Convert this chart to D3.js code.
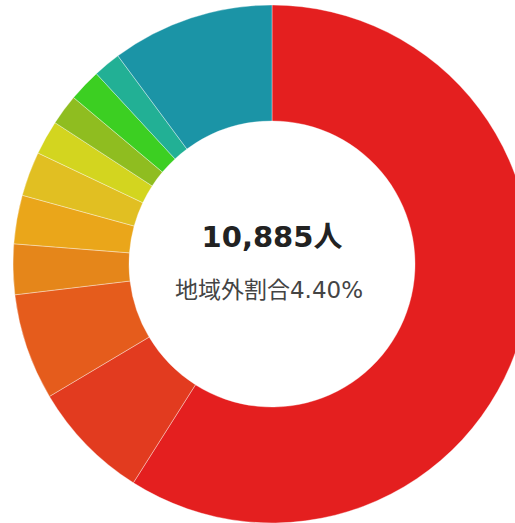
<!DOCTYPE html>
<html>
<head>
<meta charset="utf-8">
<script src="https://cdn.jsdelivr.net/npm/d3@7"></script>
<style>
  html, body { margin: 0; padding: 0; background: #fff; }
  svg { display: block; }
</style>
</head>
<body>
<div id="chart"></div>
<script>
const SIZE = [515, 523]

// 人数 (per slice, clockwise from 12 o'clock)
const categories = ['A', 'B', 'C', 'D', 'E', 'F', 'G', 'H', 'I', 'J', 'K']
const values = [6421, 813, 723, 342, 330, 302, 233, 209, 221, 187, 1104]
const colors = ['#e41f1f', '#e23b1f', '#e55c1c', '#e5861a', '#eaa61a', '#e1bf22',
  '#d3d51f', '#8fbd20', '#3ccf22', '#22b095', '#1b94a6']

const totalLabel = '10,885人'
const ratioLabel = '地域外割合4.40%'

const center = [272, 264]
const outerR = 259
const innerR = 143

const svg = d3.select('#chart')
  .append('svg')
  .attr('width', SIZE[0])
  .attr('height', SIZE[1])

const g = svg.append('g')
  .attr('transform', `translate(${center})`)

const pie = d3.pie()
  .sort(null)
  .value(d => d.value)

const arc = d3.arc()
  .innerRadius(innerR)
  .outerRadius(outerR)

const color = d3.scaleOrdinal()
  .domain(categories)
  .range(colors)

const data = categories.map((c, i) => ({ name: c, value: values[i] }))

g.selectAll('path')
  .data(pie(data))
  .enter()
  .append('path')
  .attr('d', arc)
  .attr('fill', d => color(d.data.name))
  .attr('stroke', 'rgba(255,255,255,0.45)')
  .attr('stroke-width', 0.8)

const font = '"DejaVu Sans", "Noto Sans CJK JP", sans-serif'

g.append('text')
  .attr('x', 0)
  .attr('y', -17)
  .attr('text-anchor', 'middle')
  .attr('font-family', font)
  .attr('font-weight', 'bold')
  .attr('font-size', 29)
  .attr('fill', '#222')
  .text(totalLabel)

g.append('text')
  .attr('x', -3)
  .attr('y', 34)
  .attr('text-anchor', 'middle')
  .attr('font-family', font)
  .attr('font-size', 23)
  .attr('fill', '#444')
  .text(ratioLabel)
</script>
</body>
</html>
